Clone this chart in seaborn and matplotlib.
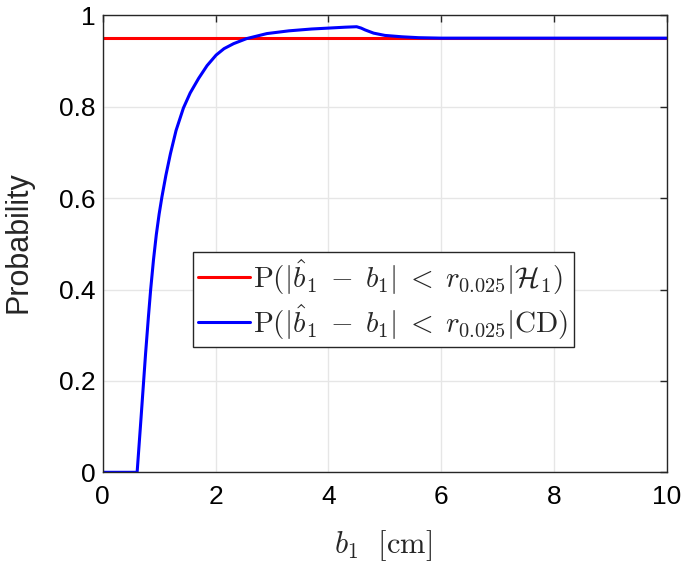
import matplotlib.pyplot as plt
import seaborn as sns

# Values
b1_cd = [0.0, 0.61, 0.68, 0.72, 0.76, 0.81, 0.85, 0.90, 0.95, 1.00, 1.05, 1.12, 1.20,
         1.30, 1.43, 1.55, 1.70, 1.85, 2.01, 2.15, 2.32, 2.55, 2.91, 3.30, 3.70, 4.00,
         4.30, 4.50, 4.58, 4.65, 4.80, 5.00, 5.30, 5.60, 6.00, 7.00, 8.00, 9.00, 10.0]
prob_cd = [0.0, 0.0, 0.12, 0.19, 0.26, 0.34, 0.40, 0.465, 0.52, 0.565, 0.603, 0.65, 0.697,
           0.748, 0.797, 0.830, 0.862, 0.890, 0.913, 0.927, 0.938, 0.949, 0.960, 0.966, 0.970, 0.972,
           0.974, 0.975, 0.972, 0.968, 0.961, 0.956, 0.953, 0.951, 0.95, 0.95, 0.95, 0.95, 0.95]
b1_h1 = [0.0, 10.0]
prob_h1 = [0.95, 0.95]

label_h1 = r"$\mathrm{P}(|\hat{b}_1 \;-\; b_1| \;<\; r_{0.025}|\mathcal{H}_1)$"
label_cd = r"$\mathrm{P}(|\hat{b}_1 \;-\; b_1| \;<\; r_{0.025}|\mathrm{CD})$"

sns.set_style("whitegrid")
plt.rcParams['font.family'] = ['Liberation Sans', 'DejaVu Sans']
plt.rcParams['mathtext.fontset'] = 'cm'

fig = plt.figure(figsize=(6.85, 5.65), dpi=100)
ax = fig.add_axes([102.7 / 685, 1 - 472.3 / 565, 564.3 / 685, 457 / 565])

sns.lineplot(x=b1_h1, y=prob_h1, color='#ff0000', lw=2.2, label=label_h1, ax=ax)
sns.lineplot(x=b1_cd, y=prob_cd, color='#0000ff', lw=2.2, label=label_cd, ax=ax)

ax.set_xlim(0, 10)
ax.set_ylim(0, 1)
ax.set_xticks([0, 2, 4, 6, 8, 10])
ax.set_yticks([0, 0.2, 0.4, 0.6, 0.8, 1])
ax.set_yticklabels(['0', '0.2', '0.4', '0.6', '0.8', '1'])
ax.grid(True, color='#e6e6e6', lw=1)
for s in ax.spines.values():
    s.set_color('#262626')
    s.set_linewidth(1.0)
ax.tick_params(direction='in', length=5, width=1, color='#262626', labelsize=19,
               top=True, right=True, labelcolor='black')
ax.tick_params(axis='x', pad=9)
ax.tick_params(axis='y', pad=5)

ax.set_xlabel(r"$b_1\ \ [\mathrm{cm}]$", fontsize=22)
ax.set_ylabel('Probability', fontsize=22)
ax.xaxis.set_label_coords(0.497, -0.122)
ax.yaxis.set_label_coords(-0.122, 0.503)

leg = ax.legend(loc='center', bbox_to_anchor=(0.497, 0.378), fontsize=21, frameon=True,
                fancybox=False, edgecolor='#262626', framealpha=1, handlelength=1.78,
                handletextpad=0.08, borderpad=0.2, labelspacing=0.2, borderaxespad=0)
leg.get_frame().set_linewidth(1.0)

fig.savefig('out.png', dpi=100)
